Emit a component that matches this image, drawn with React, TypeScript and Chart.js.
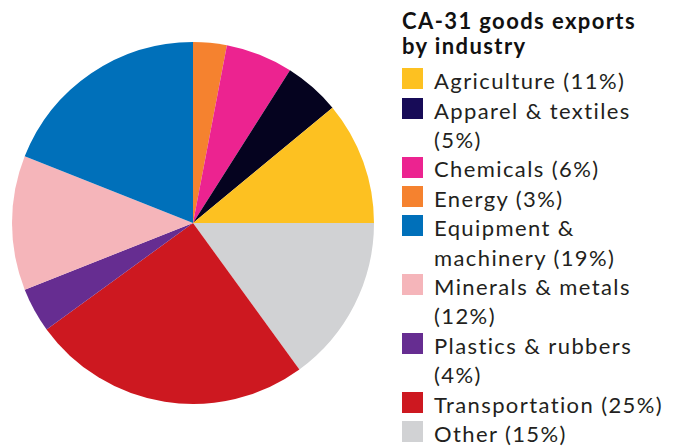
import React, { useEffect, useRef } from "react";
import { Chart, registerables } from "chart.js";

Chart.register(...registerables);

const title = ["CA-31 goods exports", "by industry"];
const categories = [
  "Agriculture",
  "Apparel & textiles",
  "Chemicals",
  "Energy",
  "Equipment & machinery",
  "Minerals & metals",
  "Plastics & rubbers",
  "Transportation",
  "Other",
];
const shares = [11, 5, 6, 3, 19, 12, 4, 25, 15];
const sliceColors = [
  "#fdc121",
  "#05031f",
  "#ec2390",
  "#f5822f",
  "#0070ba",
  "#f5b5ba",
  "#662d91",
  "#cd1820",
  "#d1d2d4",
];
const swatchColors = [
  "#fdc121",
  "#170b57",
  "#ec2390",
  "#f5822f",
  "#0070ba",
  "#f5b5ba",
  "#662d91",
  "#cd1820",
  "#d1d2d4",
];

const FONT = "Lato, 'Noto Sans', sans-serif";

export default function App() {
  const ref = useRef<HTMLCanvasElement | null>(null);

  useEffect(() => {
    if (!ref.current) return;
    // Drawn clockwise from 3 o'clock in reverse order == counter-clockwise in legend order
    const labels = [...categories].reverse();
    const data = [...shares].reverse();
    const colors = [...sliceColors].reverse();
    const chart = new Chart(ref.current, {
      type: "pie",
      data: {
        labels,
        datasets: [
          {
            data,
            backgroundColor: colors,
            borderWidth: 0,
          },
        ],
      },
      options: {
        responsive: false,
        animation: false,
        rotation: 90,
        layout: { padding: { top: 42, bottom: 42, left: 12, right: 12 } },
        plugins: {
          legend: { display: false },
          tooltip: { enabled: false },
          title: { display: false },
        },
      },
    });
    return () => chart.destroy();
  }, []);

  return (
    <div
      style={{
        position: "fixed",
        left: 0,
        top: 0,
        width: 682,
        height: 446,
        background: "#ffffff",
        overflow: "hidden",
      }}
    >
      <canvas
        ref={ref}
        width={386}
        height={446}
        style={{ position: "absolute", left: 0, top: 0, width: 386, height: 446 }}
      />
      <div
        style={{
          position: "absolute",
          left: 402,
          top: 8.3,
          fontFamily: FONT,
          fontWeight: 700,
          fontSize: 22,
          lineHeight: "25px",
          letterSpacing: "1.4px",
          color: "#111111",
          whiteSpace: "nowrap",
        }}
      >
        {title.map((t, i) => (
          <div key={i}>{t}</div>
        ))}
      </div>
      <div
        style={{
          position: "absolute",
          left: 402,
          top: 66.1,
          fontFamily: FONT,
          fontWeight: 400,
          fontSize: 22,
          lineHeight: "29.4px",
          letterSpacing: "1.4px",
          color: "#231f20",
        }}
      >
        {categories.map((c, i) => (
          <div key={c} style={{ display: "flex", alignItems: "flex-start" }}>
            <div
              style={{
                width: 21,
                height: 21,
                marginTop: 2.2,
                marginRight: 11,
                background: swatchColors[i],
                flex: "0 0 auto",
              }}
            />
            <div style={{ width: 236 }}>{`${c} (${shares[i]}%)`}</div>
          </div>
        ))}
      </div>
    </div>
  );
}
